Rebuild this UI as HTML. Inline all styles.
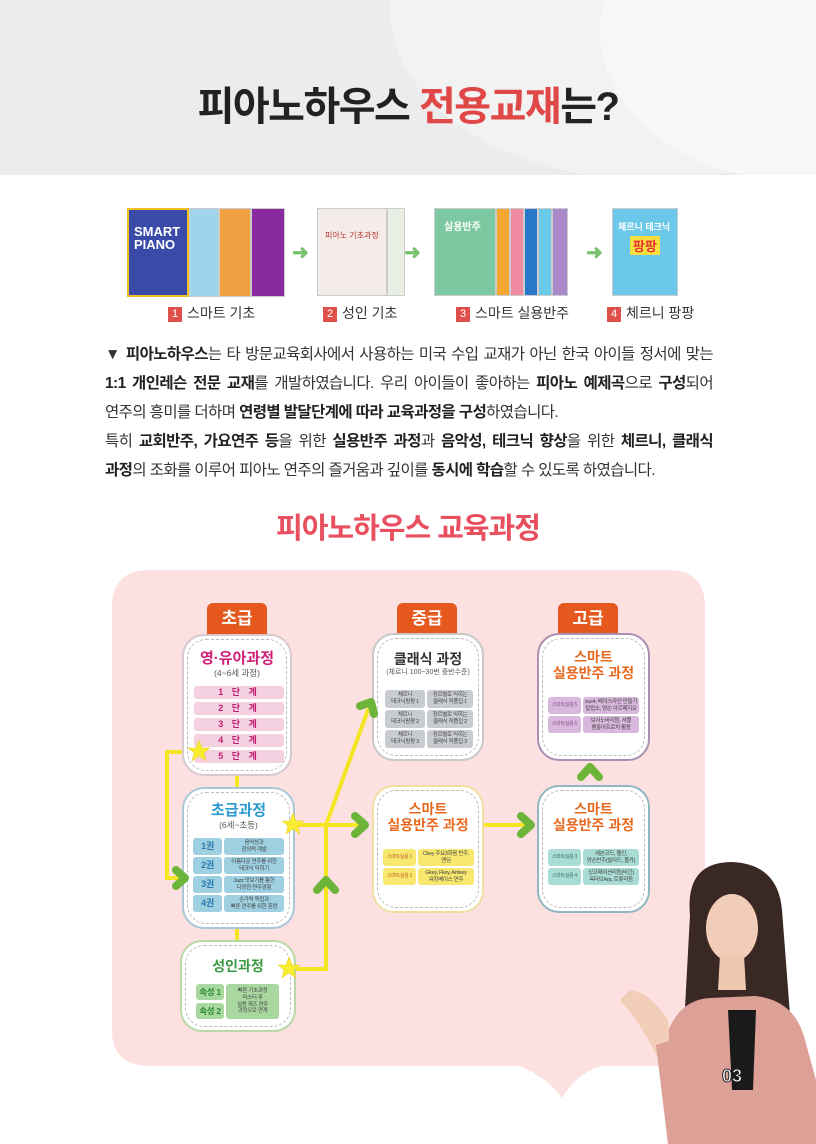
<!DOCTYPE html>
<html><head><meta charset="utf-8">
<style>
*{margin:0;padding:0;box-sizing:border-box}
body{width:816px;height:1144px;position:relative;background:#fff;font-family:"Liberation Sans","Noto Sans CJK KR",sans-serif;overflow:hidden}
.a{position:absolute}
.title{left:0;width:816px;top:74px;text-align:center;font-size:40px;font-weight:bold;color:#222;letter-spacing:-1.5px}
.red{color:#e04848}
.book{position:absolute;border:1px solid #ccc}
.lbl{position:absolute;top:303px;font-size:14px;color:#333;white-space:nowrap}
.num{display:inline-block;width:14px;height:15px;background:#e0504a;color:#fff;font-size:11px;text-align:center;line-height:15px;margin-right:5px;vertical-align:1px}
.para{left:105px;width:608px;top:340px;font-size:15.5px;color:#333;letter-spacing:-0.6px}
.para div{height:29px;line-height:29px;text-align:justify;text-align-last:justify;white-space:nowrap}
.para div.n{text-align-last:left}
.para b{color:#222}
.tab{position:absolute;width:60px;height:32px;background:#e5581e;border-radius:6px 6px 0 0;color:#fff;font-weight:bold;font-size:17px;text-align:center;line-height:32px}
.box{position:absolute;background:#fff;border-radius:22px;border:2px solid;text-align:center}
.box .in{position:absolute;inset:3px;border:1px dashed #bbb;border-radius:19px}
.h{position:relative;font-weight:bold;line-height:1.15}
.s{position:relative;font-size:8.5px;color:#555;white-space:nowrap}
.row{position:absolute;border-radius:3px;font-size:5.5px;letter-spacing:-0.3px;color:#444;display:flex;align-items:center;justify-content:center;text-align:center;line-height:1.25;white-space:nowrap;overflow:hidden}
</style></head><body>
<div class="a" style="left:0;top:0;width:816px;height:175px;background:#ececec;overflow:hidden">
<div class="a" style="left:390px;top:-160px;width:520px;height:340px;border-radius:50%;background:#f2f2f2"></div>
<div class="a" style="left:600px;top:-120px;width:380px;height:300px;border-radius:50%;background:#f7f7f7"></div>
</div>
<div class="a title">피아노하우스 <span class="red">전용교재</span>는?</div>

<div class="book" style="left:127px;top:208px;width:62px;height:89px;background:#3a4aa8;border-color:#f0c020;border-width:2px"></div>
<div class="book" style="left:189px;top:208px;width:30px;height:89px;background:#9fd4ea"></div>
<div class="book" style="left:219px;top:208px;width:32px;height:89px;background:#f0a040"></div>
<div class="book" style="left:251px;top:208px;width:34px;height:89px;background:#8a2aa0"></div>
<div class="a" style="left:134px;top:225px;color:#fff;font-size:13px;font-weight:bold;line-height:1">SMART<br>PIANO</div>
<div class="book" style="left:317px;top:208px;width:70px;height:88px;background:#f3ece8"></div>
<div class="book" style="left:387px;top:208px;width:18px;height:88px;background:#e8eee4"></div>
<div class="a" style="left:325px;top:230px;font-size:8px;color:#b33">피아노 기초과정</div>
<div class="book" style="left:434px;top:208px;width:62px;height:88px;background:#7cc8a0"></div>
<div class="book" style="left:496px;top:208px;width:14px;height:88px;background:#f5a630"></div>
<div class="book" style="left:510px;top:208px;width:14px;height:88px;background:#f08aa0"></div>
<div class="book" style="left:524px;top:208px;width:14px;height:88px;background:#2a78c8"></div>
<div class="book" style="left:538px;top:208px;width:14px;height:88px;background:#6ac8e8"></div>
<div class="book" style="left:552px;top:208px;width:16px;height:88px;background:#a888c8"></div>
<div class="a" style="left:444px;top:218px;font-size:10px;font-weight:bold;color:#fff">실용반주</div>
<div class="book" style="left:612px;top:208px;width:66px;height:88px;background:#6cc8e8"></div>
<div class="a" style="left:618px;top:220px;font-size:9px;font-weight:bold;color:#fff">체르니 테크닉</div>
<div class="a" style="left:630px;top:236px;font-size:13px;font-weight:bold;color:#e83030;background:#f8e040;padding:0 3px">팡팡</div>
<div class="a" style="left:292px;top:240px;color:#7ac070;font-size:20px;font-weight:bold">➜</div>
<div class="a" style="left:404px;top:240px;color:#7ac070;font-size:20px;font-weight:bold">➜</div>
<div class="a" style="left:586px;top:240px;color:#7ac070;font-size:20px;font-weight:bold">➜</div>
<div class="lbl" style="left:168px"><span class="num">1</span>스마트 기초</div>
<div class="lbl" style="left:323px"><span class="num">2</span>성인 기초</div>
<div class="lbl" style="left:456px"><span class="num">3</span>스마트 실용반주</div>
<div class="lbl" style="left:607px"><span class="num">4</span>체르니 팡팡</div>

<div class="a para">
<div>▼ <b>피아노하우스</b>는 타 방문교육회사에서 사용하는 미국 수입 교재가 아닌 한국 아이들 정서에 맞는</div>
<div><b>1:1 개인레슨 전문 교재</b>를 개발하였습니다. 우리 아이들이 좋아하는 <b>피아노 예제곡</b>으로 <b>구성</b>되어</div>
<div class="n">연주의 흥미를 더하며 <b>연령별 발달단계에 따라 교육과정을 구성</b>하였습니다.</div>
<div>특히 <b>교회반주, 가요연주 등</b>을 위한 <b>실용반주 과정</b>과 <b>음악성, 테크닉 향상</b>을 위한 <b>체르니, 클래식</b></div>
<div class="n"><b>과정</b>의 조화를 이루어 피아노 연주의 즐거움과 깊이를 <b>동시에 학습</b>할 수 있도록 하였습니다.</div>
</div>

<div class="a" style="left:0;width:816px;top:505px;text-align:center;font-size:29px;font-weight:bold;color:#e85060;letter-spacing:-1px">피아노하우스 교육과정</div>

<svg class="a" style="left:0;top:0" width="816" height="1144">
<path d="M150 570 H668 Q705 570 705 607 V1030 Q705 1066 668 1066 H600 Q575 1075 562 1098 Q548 1078 520 1066 H150 Q112 1066 112 1030 V607 Q112 570 150 570 Z" fill="#fde0e0"/>
<g stroke="#f5e520" stroke-width="4" fill="none" stroke-linecap="round">
<path d="M197 752 H167 V878 H178"/>
<path d="M237 777 V787"/><path d="M237 929 V940"/>
<path d="M293 825 H360"/>
<path d="M288 969 H326 V825"/>
<path d="M326 825 L368 710"/>
<path d="M486 825 H528"/>
</g>
</svg>

<div class="tab" style="left:207px;top:603px">초급</div>
<div class="tab" style="left:397px;top:603px">중급</div>
<div class="tab" style="left:558px;top:603px">고급</div>

<div class="box" style="left:182px;top:634px;width:110px;height:142px;border-color:#d8c8d0"><div class="in"></div>
<div class="h" style="color:#d0207a;font-size:15px;margin-top:14px">영·유아과정</div>
<div class="s">(4~6세 과정)</div>
<div class="row" style="left:10px;top:50px;width:90px;height:13px;background:#f4d0e0;color:#c02070;font-size:9px;font-weight:bold;letter-spacing:3px">1 단 계</div>
<div class="row" style="left:10px;top:66px;width:90px;height:13px;background:#f4d0e0;color:#c02070;font-size:9px;font-weight:bold;letter-spacing:3px">2 단 계</div>
<div class="row" style="left:10px;top:82px;width:90px;height:13px;background:#f4d0e0;color:#c02070;font-size:9px;font-weight:bold;letter-spacing:3px">3 단 계</div>
<div class="row" style="left:10px;top:98px;width:90px;height:13px;background:#f4d0e0;color:#c02070;font-size:9px;font-weight:bold;letter-spacing:3px">4 단 계</div>
<div class="row" style="left:10px;top:114px;width:90px;height:13px;background:#f4d0e0;color:#c02070;font-size:9px;font-weight:bold;letter-spacing:3px">5 단 계</div>
</div>
<div class="box" style="left:182px;top:787px;width:113px;height:142px;border-color:#a8c8d8"><div class="in"></div>
<div class="h" style="color:#2a9ad0;font-size:15px;margin-top:13px">초급과정</div>
<div class="s">(6세~초등)</div>
<div class="row" style="left:9px;top:49px;width:29px;height:17px;background:#9ed0e2;color:#2a7ab0;font-size:9px;font-weight:bold">1권</div>
<div class="row" style="left:40px;top:49px;width:60px;height:17px;background:#9ed0e2">음악성과<br>창의력 계발</div>
<div class="row" style="left:9px;top:68px;width:29px;height:17px;background:#9ed0e2;color:#2a7ab0;font-size:9px;font-weight:bold">2권</div>
<div class="row" style="left:40px;top:68px;width:60px;height:17px;background:#9ed0e2">아름다운 연주를 위한<br>테크닉 익히기</div>
<div class="row" style="left:9px;top:87px;width:29px;height:17px;background:#9ed0e2;color:#2a7ab0;font-size:9px;font-weight:bold">3권</div>
<div class="row" style="left:40px;top:87px;width:60px;height:17px;background:#9ed0e2">Jazz 맛보기를 통한<br>다양한 연주경험</div>
<div class="row" style="left:9px;top:106px;width:29px;height:17px;background:#9ed0e2;color:#2a7ab0;font-size:9px;font-weight:bold">4권</div>
<div class="row" style="left:40px;top:106px;width:60px;height:17px;background:#9ed0e2">손가락 독립과<br>빠른 연주를 위한 훈련</div>
</div>
<div class="box" style="left:180px;top:940px;width:116px;height:92px;border-color:#b8d8a8"><div class="in"></div>
<div class="h" style="color:#3a9a40;font-size:14px;margin-top:16px">성인과정</div>
<div class="row" style="left:14px;top:42px;width:28px;height:16px;background:#a8d8a0;color:#2a8a30;font-size:8.5px;font-weight:bold">속성 1</div>
<div class="row" style="left:14px;top:61px;width:28px;height:16px;background:#a8d8a0;color:#2a8a30;font-size:8.5px;font-weight:bold">속성 2</div>
<div class="row" style="left:44px;top:42px;width:53px;height:35px;background:#a8d8a0">빠른 기초과정<br>마스터 후<br>실용 재즈 연주<br>과정으로 연계</div>
</div>
<div class="box" style="left:372px;top:633px;width:112px;height:128px;border-color:#c8c8c8"><div class="in"></div>
<div class="h" style="color:#333;font-size:14px;margin-top:16px">클래식 과정</div>
<div class="s" style="font-size:7px">(체르니 100~30번 중반수준)</div>
<div class="row" style="left:11px;top:55px;width:40px;height:18px;background:#c8ccd0">체르니<br>테크닉팡팡 1</div>
<div class="row" style="left:53px;top:55px;width:46px;height:18px;background:#c8ccd0">장르별로 익히는<br>클래식 작품집 1</div>
<div class="row" style="left:11px;top:75px;width:40px;height:18px;background:#c8ccd0">체르니<br>테크닉팡팡 2</div>
<div class="row" style="left:53px;top:75px;width:46px;height:18px;background:#c8ccd0">장르별로 익히는<br>클래식 작품집 2</div>
<div class="row" style="left:11px;top:95px;width:40px;height:18px;background:#c8ccd0">체르니<br>테크닉팡팡 3</div>
<div class="row" style="left:53px;top:95px;width:46px;height:18px;background:#c8ccd0">장르별로 익히는<br>클래식 작품집 3</div>
</div>
<div class="box" style="left:372px;top:785px;width:112px;height:128px;border-color:#f0e0a0"><div class="in"></div>
<div class="h" style="color:#e86a20;font-size:14px;margin-top:14px">스마트<br>실용반주 과정</div>
<div class="row" style="left:9px;top:62px;width:33px;height:17px;background:#f8e870;color:#c06020;font-size:5px">스마트실용 1</div>
<div class="row" style="left:44px;top:62px;width:56px;height:17px;background:#f8e870">Ckey 주요3화음 반주,<br>엔딩</div>
<div class="row" style="left:9px;top:81px;width:33px;height:17px;background:#f8e870;color:#c06020;font-size:5px">스마트실용 2</div>
<div class="row" style="left:44px;top:81px;width:56px;height:17px;background:#f8e870">Gkey, Fkey, Amkey<br>워킹베이스 연주</div>
</div>
<div class="box" style="left:537px;top:633px;width:113px;height:128px;border-color:#a890b0"><div class="in"></div>
<div class="h" style="color:#e86a20;font-size:14px;margin-top:14px">스마트<br>실용반주 과정</div>
<div class="row" style="left:9px;top:62px;width:33px;height:17px;background:#d8b8dc;color:#8a5090;font-size:5px">스마트실용 5</div>
<div class="row" style="left:44px;top:62px;width:56px;height:17px;background:#d8b8dc">sus4, 베이스라인 만들기<br>칼립소, 양손 아르페지오</div>
<div class="row" style="left:9px;top:81px;width:33px;height:17px;background:#d8b8dc;color:#8a5090;font-size:5px">스마트실용 5</div>
<div class="row" style="left:44px;top:81px;width:56px;height:17px;background:#d8b8dc">보사노바리듬, 셔플<br>펜듈어프로치 활용</div>
</div>
<div class="box" style="left:537px;top:785px;width:113px;height:128px;border-color:#90b8c0"><div class="in"></div>
<div class="h" style="color:#e86a20;font-size:14px;margin-top:14px">스마트<br>실용반주 과정</div>
<div class="row" style="left:9px;top:62px;width:33px;height:17px;background:#a8dcd4;color:#407070;font-size:5px">스마트실용 3</div>
<div class="row" style="left:44px;top:62px;width:56px;height:17px;background:#a8dcd4">세븐코드, 펠인,<br>양손반주(발라드, 폴카)</div>
<div class="row" style="left:9px;top:81px;width:33px;height:17px;background:#a8dcd4;color:#407070;font-size:5px">스마트실용 4</div>
<div class="row" style="left:44px;top:81px;width:56px;height:17px;background:#a8dcd4">싱코페이션리듬(비긴)<br>옥타브Arp, 트롯리듬</div>
</div>

<!-- overlay: arrows & stars -->
<svg class="a" style="left:0;top:0" width="816" height="1144">
<g stroke="#6cb43a" stroke-width="8" fill="none" stroke-linejoin="round" stroke-linecap="round">
<path d="M176 870 L185 878 L176 886"/>
<path d="M355 816 L365 825 L355 834"/>
<path d="M521 816 L531 825 L521 834"/>
<path d="M317 890 L326 880 L335 890"/>
<path d="M581 777 L590 767 L599 777"/>
<path d="M360 706 L371 702 L374 714"/>
</g>
<g fill="#f8ec30" stroke="#e8c820" stroke-width="0.5">
<polygon points="199,740 202,748 210,748 204,753 206,761 199,756 192,761 194,753 188,748 196,748"/>
<polygon points="293,813 296,821 304,821 298,826 300,834 293,829 286,834 288,826 282,821 290,821"/>
<polygon points="289,957 292,965 300,965 294,970 296,978 289,973 282,978 284,970 278,965 286,965"/>
</g>
</svg>

<!-- woman -->
<svg class="a" style="left:590px;top:850px" width="226" height="294">
<path d="M100 65 Q95 12 142 12 Q188 14 192 60 L200 165 Q180 180 150 172 L125 178 Q100 170 95 158 Z" fill="#3a2824"/>
<ellipse cx="142" cy="78" rx="26" ry="34" fill="#f2cdb8"/>
<path d="M130 105 L154 105 L156 140 L128 140 Z" fill="#f0c8b0"/>
<path d="M70 215 Q78 150 120 148 L165 146 Q205 150 215 190 L226 230 V294 H85 Z" fill="#dca096"/>
<path d="M138 160 L166 160 L163 240 L142 240 Z" fill="#1a1a1a"/>
<path d="M40 140 Q60 142 78 170 L80 200 L66 205 Q52 175 30 150 Z" fill="#f2cdb8"/>
<path d="M66 195 L88 188 L100 294 L78 294 Z" fill="#dca096"/>
</svg>
<div class="a" style="left:722px;top:1066px;font-size:18px;font-weight:bold;color:#fff;-webkit-text-stroke:1px #222">03</div>
</body></html>
